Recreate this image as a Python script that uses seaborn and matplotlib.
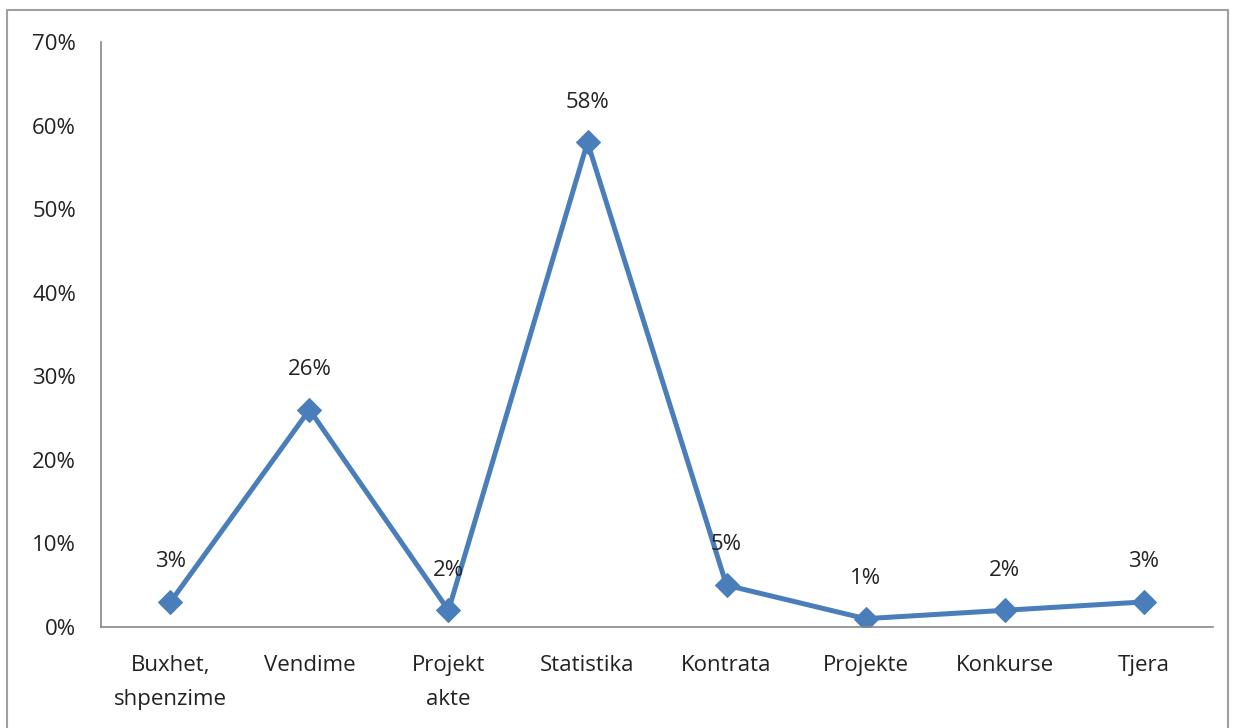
import pandas as pd
import numpy as np
import matplotlib.pyplot as plt
import seaborn as sns
from matplotlib.lines import Line2D

categories = ["Buxhet,\nshpenzime", "Vendime", "Projekt\nakte", "Statistika",
              "Kontrata", "Projekte", "Konkurse", "Tjera"]
values = [3, 26, 2, 58, 5, 1, 2, 3]

sns.set_style("white")
plt.rcParams['font.family'] = ['Open Sans', 'DejaVu Sans']

df = pd.DataFrame({"cat": categories, "val": values})
df["pos"] = np.arange(len(df))

fig = plt.figure(figsize=(12.33, 7.28), dpi=100)
ax = fig.add_axes([0.0819, 0.1387, 0.9019, 0.8036])

line_col = "#4a7ebb"
sns.lineplot(data=df, x="pos", y="val", ax=ax, color=line_col, linewidth=3.6,
             marker="D", markersize=12, markeredgecolor=line_col, sort=False)

for p, v in zip(df["pos"], df["val"]):
    ax.annotate(f"{v}%", (p, v), xytext=(0, 29), textcoords="offset points",
                ha="center", va="center", fontsize=16, color="#222222")

ax.set_xlim(-0.5, len(df) - 0.5)
ax.set_ylim(0, 70)
ax.set_yticks(range(0, 71, 10))
ax.set_yticklabels([f"{t}%" for t in range(0, 71, 10)])
ax.set_xticks(df["pos"])
ax.set_xticklabels(df["cat"], linespacing=1.8)
ax.tick_params(axis="both", length=0, labelsize=16, colors="#222222")
ax.tick_params(axis="x", pad=20)
ax.tick_params(axis="y", pad=18)
ax.set_xlabel("")
ax.set_ylabel("")

for s in ["top", "right"]:
    ax.spines[s].set_visible(False)
for s in ["left", "bottom"]:
    ax.spines[s].set_color("#888888")
    ax.spines[s].set_linewidth(1.2)

# outer chart border (left, top, right)
W, H = 1233, 728
bx0, bx1, by = 7 / W, 1228 / W, 1 - 10 / H
for xs, ys in [([bx0, bx0], [0, by]), ([bx0, bx1], [by, by]), ([bx1, bx1], [by, 0])]:
    fig.add_artist(Line2D(xs, ys, transform=fig.transFigure, color="#a0a0a0", linewidth=1.5))

fig.savefig("out.png", dpi=100)
